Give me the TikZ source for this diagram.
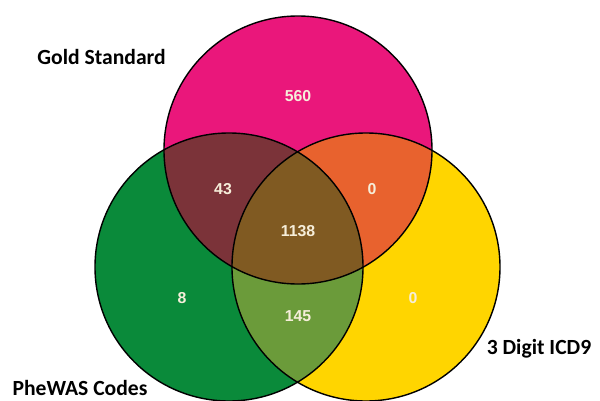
\documentclass[tikz,border=0pt]{standalone}
\usepackage{fontspec}
\setmainfont{Carlito}
\newfontfamily\numfont{Liberation Sans}
\usepackage{tikz}
\definecolor{gspink}{HTML}{EA177B}
\definecolor{phegreen}{HTML}{0A8A3A}
\definecolor{icdyellow}{HTML}{FFD500}
\definecolor{gsphe}{HTML}{7B3339}
\definecolor{gsicd}{HTML}{E8622E}
\definecolor{pheicd}{HTML}{6B9B3A}
\definecolor{allthree}{HTML}{805A22}
\definecolor{numwhite}{HTML}{F6EEDA}

\begin{document}
\begin{tikzpicture}[scale=0.2]
\tikzstyle{every node}+=[inner sep=0pt]
\tikzstyle{setname}=[font=\bfseries\fontsize{12.3}{14}\selectfont]
\tikzstyle{count}=[text=numwhite, font=\numfont\bfseries\fontsize{9}{11}\selectfont]
\useasboundingbox (0,0) rectangle (60,-40);
\coordinate (gs) at (29.8,-15);
\coordinate (phe) at (22.9,-26.7);
\coordinate (icd) at (36.6,-26.7);
% base circles
\fill [gspink] (gs) circle (13.4);
\fill [phegreen] (phe) circle (13.4);
\fill [icdyellow] (icd) circle (13.4);
% overlaps
\begin{scope}
\clip (gs) circle (13.4);
\fill [gsphe] (phe) circle (13.4);
\fill [gsicd] (icd) circle (13.4);
\end{scope}
\begin{scope}
\clip (phe) circle (13.4);
\fill [pheicd] (icd) circle (13.4);
\clip (gs) circle (13.4);
\fill [allthree] (icd) circle (13.4);
\end{scope}
\draw [black, line width=0.8pt] (gs) circle (13.4);
\draw [black, line width=0.8pt] (phe) circle (13.4);
\draw [black, line width=0.8pt] (icd) circle (13.4);
% counts
\node [count] (ngs) at (29.8,-9.6) {560};
\node [count] (ngsphe) at (22.3,-18.9) {43};
\node [count] (ngsicd) at (37.2,-18.9) {0};
\node [count] (nall) at (29.8,-23.1) {1138};
\node [count] (nphe) at (18.2,-29.8) {8};
\node [count] (npheicd) at (29.8,-31.6) {145};
\node [count] (nicd) at (41.3,-29.8) {0};
% set names
\node [setname] (lgs) at (10.15,-5.7) {Gold Standard};
\node [setname] (lphe) at (8.0,-38.8) {PheWAS Codes};
\node [setname] (licd) at (53.9,-34.9) {3 Digit ICD9};
\end{tikzpicture}
\end{document}
